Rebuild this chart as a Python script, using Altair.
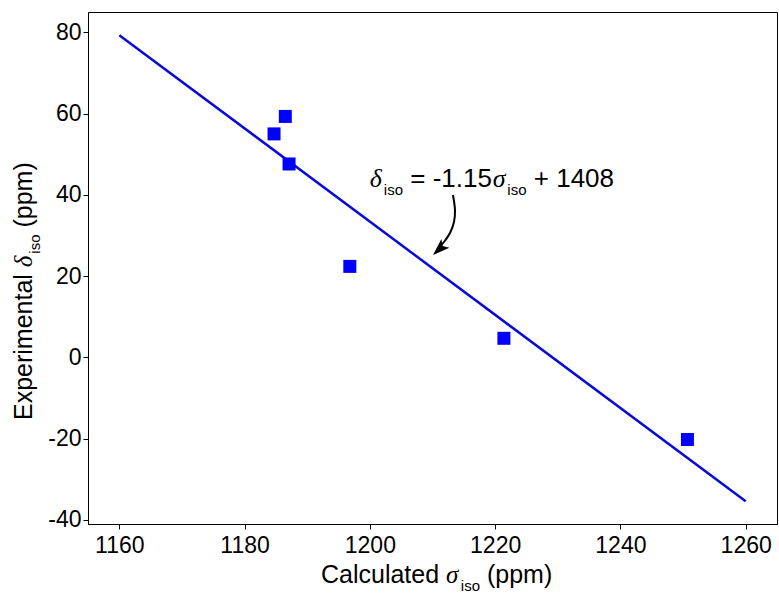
import altair as alt
import pandas as pd

# ---- data ----
calc_sigma = [1184.7, 1186.5, 1187.1, 1196.8, 1221.4, 1250.7]
exp_delta = [55.0, 59.3, 47.6, 22.4, 4.7, -20.2]

fit_x = [1160, 1260]
fit_y = [79.3, -35.4]

arrow_x = [1213.27, 1213.59, 1213.43, 1212.79, 1211.84, 1211.20]
arrow_y = [39.97, 36.27, 33.32, 30.61, 28.40, 27.41]
head_x = [1211.07]
head_y = [26.63]

ann_x = [1200]
ann_y = [42]

x_ticks = [1160, 1180, 1200, 1220, 1240, 1260]
y_ticks = [-40, -20, 0, 20, 40, 60, 80]

X_DOMAIN = [1155, 1265]
Y_DOMAIN = [-41, 85]

SANS = "Liberation Sans"
SERIF = "Liberation Serif"

xs = alt.Scale(domain=X_DOMAIN, nice=False, zero=False)
ys = alt.Scale(domain=Y_DOMAIN, nice=False, zero=False)

xenc = alt.X("x:Q", scale=xs, axis=alt.Axis(values=x_ticks, title=None, labelPadding=5,
                                             labelExpr="'' + datum.value"))
yenc = alt.Y("y:Q", scale=ys, axis=alt.Axis(values=y_ticks, title=None, labelPadding=2,
                                             labelExpr="'' + datum.value"))

pts = pd.DataFrame({"x": calc_sigma, "y": exp_delta})
fit = pd.DataFrame({"x": fit_x, "y": fit_y})
arr = pd.DataFrame({"x": arrow_x, "y": arrow_y, "i": list(range(len(arrow_x)))})
head = pd.DataFrame({"x": head_x, "y": head_y})
ann = pd.DataFrame({"x": ann_x, "y": ann_y})

fit_line = alt.Chart(fit).mark_line(color="#0a0ad6", strokeWidth=2.5).encode(x=xenc, y=yenc)
squares = alt.Chart(pts).mark_square(size=169, color="#0000ff", opacity=1).encode(
    x=alt.X("x:Q", scale=xs), y=alt.Y("y:Q", scale=ys))
arrow = alt.Chart(arr).mark_line(color="black", strokeWidth=2, interpolate="cardinal").encode(
    x=alt.X("x:Q", scale=xs), y=alt.Y("y:Q", scale=ys), order=alt.Order("i:Q"))
arrow_head = alt.Chart(head).mark_point(
    shape="M0,-1L0.7,1L0,0.55L-0.7,1Z", filled=True, color="black", opacity=1,
    size=289, angle=227, strokeWidth=0).encode(
    x=alt.X("x:Q", scale=xs), y=alt.Y("y:Q", scale=ys))

# ---- annotation pieces (anchored in data coordinates) ----
def ann_piece(text, dx, dy, size, font=SANS, italic=False):
    return alt.Chart(ann).mark_text(
        text=text, dx=dx, dy=dy, fontSize=size, font=font,
        fontStyle="italic" if italic else "normal", align="left",
        baseline="alphabetic", color="black").encode(
        x=alt.X("x:Q", scale=xs), y=alt.Y("y:Q", scale=ys))

FA = 26
SP = 0.278 * FA
annotation = [
    ann_piece("\u03b4", 0, 0, FA, SERIF, True),
    ann_piece("iso", 14, 8, 15),
    ann_piece("= -1.15", 33.2 + SP, 0, FA),
    ann_piece("\u03c3", 123, 0, FA, SERIF, True),
    ann_piece("iso", 137.5, 8, 15),
    ann_piece("+ 1408", 156.7 + SP, 0, FA),
]

# ---- axis titles composed of pieces (pixel layout relative to plot area) ----
one = pd.DataFrame({"a": [0]})

def title_piece(text, x, y, size, font=SANS, italic=False, angle=0):
    props = dict(text=text, fontSize=size, font=font,
                 fontStyle="italic" if italic else "normal", align="left",
                 baseline="alphabetic", color="black")
    if angle:
        props["angle"] = angle
    return alt.Chart(one).mark_text(**props).encode(x=alt.value(x), y=alt.value(y))

FT = 25
ST = 0.278 * FT
xt_y = 571
xtitle = [
    title_piece("Calculated", 233, xt_y, FT),
    title_piece("\u03c3", 358, xt_y, FT, SERIF, True),
    title_piece("iso", 372.8, xt_y + 8, 15),
    title_piece("(ppm)", 392 + ST, xt_y, FT),
]
yt_x = -56
ytitle = [
    title_piece("Experimental", yt_x, 408, FT, angle=270),
    title_piece("\u03b4", yt_x, 255.2, FT, SERIF, True, angle=270),
    title_piece("iso", yt_x + 8, 241.7, 15, angle=270),
    title_piece("(ppm)", yt_x, 222.5 - ST, FT, angle=270),
]

chart = alt.layer(
    fit_line, squares, arrow, arrow_head, *annotation, *xtitle, *ytitle
).properties(
    width=689, height=512,
    autosize=alt.AutoSizeParams(type="none"),
    padding={"left": 88, "top": 12, "right": 2, "bottom": 70},
).configure_view(
    stroke="black", strokeWidth=1
).configure_axis(
    grid=False, domainColor="black", domainWidth=1, tickColor="black", tickSize=5,
    labelColor="black", labelFont=SANS, labelFontSize=23,
)

chart.save("out.html", embed_options={"renderer": "svg", "actions": False})
